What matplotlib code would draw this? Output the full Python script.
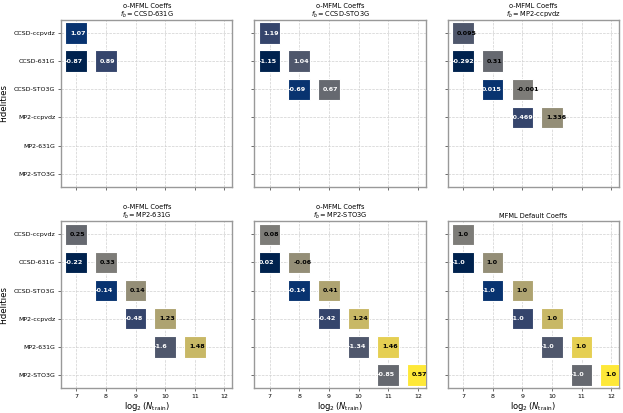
import matplotlib
matplotlib.use("Agg")
import matplotlib.pyplot as plt
import numpy as np

fidelities = ["CCSD-ccpvdz", "CCSD-631G", "CCSD-STO3G", "MP2-ccpvdz", "MP2-631G", "MP2-STO3G"]
n_train_log2 = [7, 8, 9, 10, 11, 12]

titles = [
    "o-MFML Coeffs\n$f_b = $CCSD-631G",
    "o-MFML Coeffs\n$f_b = $CCSD-STO3G",
    "o-MFML Coeffs\n$f_b = $MP2-ccpvdz",
    "o-MFML Coeffs\n$f_b = $MP2-631G",
    "o-MFML Coeffs\n$f_b = $MP2-STO3G",
    "MFML Default Coeffs",
]

# coefficients on the diagonal (upper) and just below it (lower)
upper = [
    [1.07, 0.89],
    [1.19, 1.04, 0.67],
    [0.095, 0.31, -0.001, 1.336],
    [0.25, 0.33, 0.14, 1.23, 1.48],
    [0.08, -0.06, 0.41, 1.24, 1.46, 0.57],
    [1.0, 1.0, 1.0, 1.0, 1.0, 1.0],
]
lower = [
    [-0.87],
    [-1.15, -0.69],
    [-0.292, 0.015, -0.469],
    [-0.22, -0.14, -0.48, -1.6],
    [0.02, -0.14, -0.42, -1.34, -0.85],
    [-1.0, -1.0, -1.0, -1.0, -1.0],
]
upper_text = ["white", "white", "black", "black", "black", "black"]


def main() -> None:
    fig, axes = plt.subplots(2, 3, figsize=(6.23, 4.13), dpi=100, sharex=True, sharey=True)
    fig.subplots_adjust(left=0.098, right=0.994, top=0.952, bottom=0.06, wspace=0.128, hspace=0.204)
    cmap = plt.get_cmap("cividis")

    for k, ax in enumerate(axes.flat):
        lo = lower[k]
        up = upper[k]
        # lower cells first, then upper cells, coloured in that order
        xs = [n_train_log2[i] for i in range(len(lo))] + [n_train_log2[i] for i in range(len(up))]
        ys = [i + 1 for i in range(len(lo))] + [i for i in range(len(up))]
        order = np.arange(len(xs))
        ax.grid(True, ls="--", lw=0.5, color="#d0d0d0", zorder=0)
        ax.scatter(xs, ys, c=order, cmap=cmap, vmin=0, vmax=10, marker="s", s=240,
                   edgecolors="white", linewidths=0.8, zorder=3)
        for i, v in enumerate(lo):
            ax.text(n_train_log2[i] - 0.38, i + 1, str(v), ha="left", va="center",
                    fontsize=4.6, fontweight="bold", color="white", zorder=4)
        for i, v in enumerate(up):
            ax.text(n_train_log2[i] - 0.2, i, str(v), ha="left", va="center",
                    fontsize=4.6, fontweight="bold", color=upper_text[k], zorder=4)

        ax.set_title(titles[k], fontsize=4.8, pad=2.5, linespacing=1.1)
        for sp in ax.spines.values():
            sp.set_color("#999999")
            sp.set_linewidth(1.0)
        ax.tick_params(labelsize=4.5, length=2, width=0.6, color="#555555", pad=2)

    ax0 = axes[0, 0]
    ax0.set_xticks(n_train_log2)
    ax0.set_xlim(6.49, 12.27)
    ax0.set_yticks(range(len(fidelities)))
    ax0.set_yticklabels(fidelities)
    ax0.set_ylim(5.47, -0.47)

    for ax in axes[:, 0]:
        ax.set_ylabel("Fidelities", fontsize=6.2, labelpad=4)
    for ax in axes[1, :]:
        ax.set_xlabel(r"$\log_2(N_{\rm train})$", fontsize=6, labelpad=1)

    fig.savefig("out.png", dpi=100)


main()
